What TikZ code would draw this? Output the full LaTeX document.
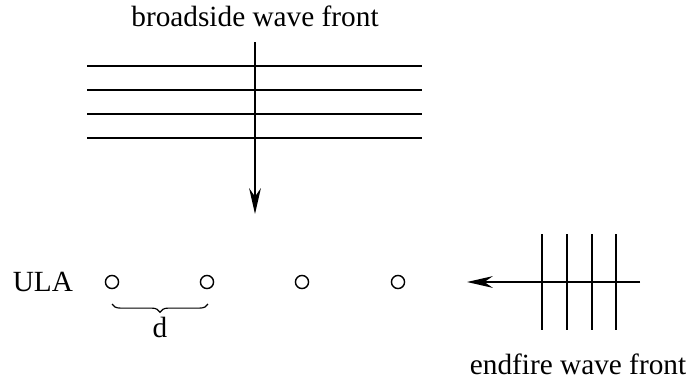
\documentclass[tikz,border=0pt]{standalone}
\usepackage{fontspec}
\setmainfont{Liberation Serif}
\usetikzlibrary{arrows.meta,positioning,decorations.pathreplacing}

\begin{document}
\begin{tikzpicture}[x=0.015cm,y=0.015cm,>={Stealth[length=11pt,width=5pt]},every node/.style={font=\fontsize{12.5}{14}\selectfont},
  sensor/.style={circle,draw,inner sep=0pt,minimum size=5.6pt,line width=0.6pt},
  front/.style={line width=0.7pt}]
\useasboundingbox (0,0) rectangle (686,382);
% broadside wave front
\foreach \y in {316,292,268,244}{
  \draw[front] (87,\y) -- (422,\y);
}
\coordinate (bs0) at (255,340);
\coordinate (bs1) at (255,168);
\draw[->,line width=0.7pt] (bs0) -- (bs1);
\node (bslab) at (255,366) {broadside wave front};
% array elements
\foreach \x/\n in {112/1,207/2,302/3,398/4}{
  \node[sensor] (e\n) at (\x,100) {};
}
\node[left=10pt of e1] (ula) {ULA};
% element spacing
\coordinate (d0) at (112,78);
\coordinate (d1) at (208,78);
\draw[decorate,decoration={brace,mirror,amplitude=3.5pt},line width=0.5pt] (d0) -- (d1) coordinate[midway] (dmid);
\node[below=2pt of dmid] (dlab) {d};
% endfire wave front
\foreach \x in {542,567,592,616}{
  \draw[front] (\x,148) -- (\x,52);
}
\coordinate (ef0) at (640,100);
\coordinate (ef1) at (467,100);
\draw[->,line width=0.7pt] (ef0) -- (ef1);
\node (eflab) at (578,18) {endfire wave front};
\end{tikzpicture}
\end{document}
